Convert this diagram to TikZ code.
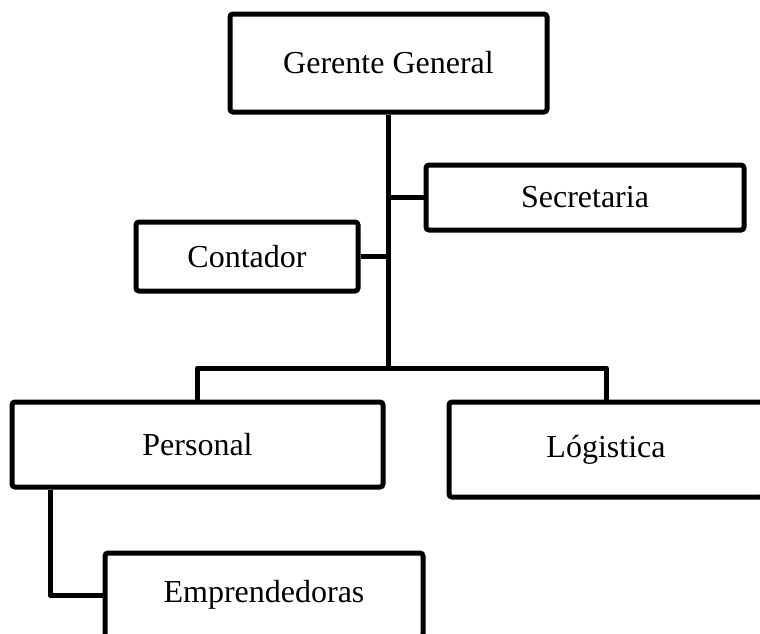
\documentclass[tikz,border=0pt]{standalone}
\usepackage{fontspec}
\setmainfont{Liberation Serif}
\usetikzlibrary{positioning}
\tikzset{cargo/.style={draw,line width=2.5pt,rounded corners=1.5pt,inner sep=0pt,font=\fontsize{16}{19}\selectfont},
	link/.style={line width=2.5pt,line join=round}}

\begin{document}
\begin{tikzpicture}[x=0.5pt,y=-0.5pt]
	\useasboundingbox (0,0) rectangle (760,633);
	\clip (0,0) rectangle (760,633);
	\node[cargo,minimum width=158.5pt,minimum height=49pt] (gerente) at (388.5,63) {Gerente General};
	\node[cargo,minimum width=159pt,minimum height=32.5pt] (secretaria) at (585,197.5) {Secretaria};
	\node[cargo,minimum width=111pt,minimum height=34.5pt] (contador) at (247,256.5) {Contador};
	\node[cargo,minimum width=185.5pt,minimum height=42.5pt] (personal) at (197.5,444.5) {Personal};
	\node[cargo,minimum width=157pt,minimum height=47.5pt] (logistica) at (606,449.5) {Lógistica};
	\node[cargo,minimum width=159pt,minimum height=42pt] (emprendedoras) at (264,595) {Emprendedoras};
	\coordinate (cruce) at (388.5,368);
	\coordinate (codo) at (50,595);
	\draw[link] (gerente.south) -- (cruce);
	\draw[link] (secretaria.west) -- (secretaria.west -| cruce);
	\draw[link] (contador.east) -- (contador.east -| cruce);
	\draw[link] (personal.north) |- (cruce) -| (logistica.north);
	\draw[link] (codo |- personal.south) |- (emprendedoras.west);
\end{tikzpicture}
\end{document}
